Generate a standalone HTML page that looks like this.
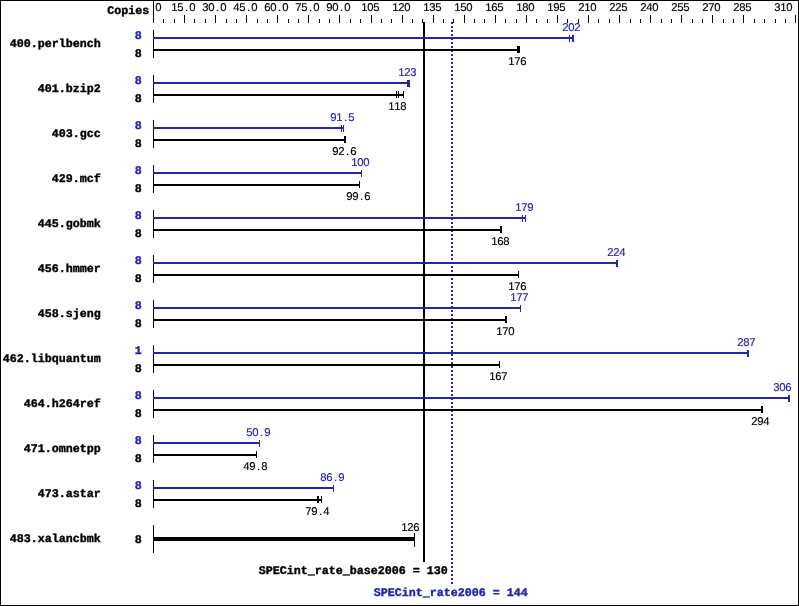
<!DOCTYPE html>
<html><head><meta charset="utf-8"><title>SPECint_rate2006</title>
<style>
html,body{margin:0;padding:0;background:#fff;}
svg{display:block;will-change:transform;}
rect{shape-rendering:crispEdges;}
text{font-family:"Liberation Mono","DejaVu Sans Mono",monospace;white-space:pre;text-rendering:geometricPrecision;}
.s{font-family:"Liberation Sans","DejaVu Sans",sans-serif;font-size:11.3px;stroke-width:0.15px;}
.b{font-size:11.6px;font-weight:bold;stroke-width:0.4px;}
</style></head><body>
<svg width="799" height="606" viewBox="0 0 799 606">
<rect x="0" y="0" width="799" height="606" fill="#fff"/>
<rect x="0" y="0" width="799" height="1" fill="#000"/>
<rect x="0" y="605" width="799" height="1" fill="#000"/>
<rect x="0" y="0" width="1" height="606" fill="#000"/>
<rect x="798" y="0" width="1" height="606" fill="#000"/>
<rect x="153" y="0" width="1" height="23" fill="#000"/>
<rect x="163" y="19" width="1" height="4" fill="#000"/>
<rect x="174" y="19" width="1" height="4" fill="#000"/>
<rect x="184" y="15" width="1" height="8" fill="#000"/>
<rect x="194" y="19" width="1" height="4" fill="#000"/>
<rect x="205" y="19" width="1" height="4" fill="#000"/>
<rect x="215" y="15" width="1" height="8" fill="#000"/>
<rect x="226" y="19" width="1" height="4" fill="#000"/>
<rect x="236" y="19" width="1" height="4" fill="#000"/>
<rect x="246" y="15" width="1" height="8" fill="#000"/>
<rect x="257" y="19" width="1" height="4" fill="#000"/>
<rect x="267" y="19" width="1" height="4" fill="#000"/>
<rect x="277" y="15" width="1" height="8" fill="#000"/>
<rect x="288" y="19" width="1" height="4" fill="#000"/>
<rect x="298" y="19" width="1" height="4" fill="#000"/>
<rect x="308" y="15" width="1" height="8" fill="#000"/>
<rect x="319" y="19" width="1" height="4" fill="#000"/>
<rect x="329" y="19" width="1" height="4" fill="#000"/>
<rect x="339" y="15" width="1" height="8" fill="#000"/>
<rect x="350" y="19" width="1" height="4" fill="#000"/>
<rect x="360" y="19" width="1" height="4" fill="#000"/>
<rect x="371" y="15" width="1" height="8" fill="#000"/>
<rect x="381" y="19" width="1" height="4" fill="#000"/>
<rect x="391" y="19" width="1" height="4" fill="#000"/>
<rect x="402" y="15" width="1" height="8" fill="#000"/>
<rect x="412" y="19" width="1" height="4" fill="#000"/>
<rect x="422" y="19" width="1" height="4" fill="#000"/>
<rect x="433" y="15" width="1" height="8" fill="#000"/>
<rect x="443" y="19" width="1" height="4" fill="#000"/>
<rect x="453" y="19" width="1" height="4" fill="#000"/>
<rect x="464" y="15" width="1" height="8" fill="#000"/>
<rect x="474" y="19" width="1" height="4" fill="#000"/>
<rect x="484" y="19" width="1" height="4" fill="#000"/>
<rect x="495" y="15" width="1" height="8" fill="#000"/>
<rect x="505" y="19" width="1" height="4" fill="#000"/>
<rect x="516" y="19" width="1" height="4" fill="#000"/>
<rect x="526" y="15" width="1" height="8" fill="#000"/>
<rect x="536" y="19" width="1" height="4" fill="#000"/>
<rect x="547" y="19" width="1" height="4" fill="#000"/>
<rect x="557" y="15" width="1" height="8" fill="#000"/>
<rect x="567" y="19" width="1" height="4" fill="#000"/>
<rect x="578" y="19" width="1" height="4" fill="#000"/>
<rect x="588" y="15" width="1" height="8" fill="#000"/>
<rect x="598" y="19" width="1" height="4" fill="#000"/>
<rect x="609" y="19" width="1" height="4" fill="#000"/>
<rect x="619" y="15" width="1" height="8" fill="#000"/>
<rect x="630" y="19" width="1" height="4" fill="#000"/>
<rect x="640" y="19" width="1" height="4" fill="#000"/>
<rect x="650" y="15" width="1" height="8" fill="#000"/>
<rect x="661" y="19" width="1" height="4" fill="#000"/>
<rect x="671" y="19" width="1" height="4" fill="#000"/>
<rect x="681" y="15" width="1" height="8" fill="#000"/>
<rect x="692" y="19" width="1" height="4" fill="#000"/>
<rect x="702" y="19" width="1" height="4" fill="#000"/>
<rect x="712" y="15" width="1" height="8" fill="#000"/>
<rect x="723" y="19" width="1" height="4" fill="#000"/>
<rect x="733" y="19" width="1" height="4" fill="#000"/>
<rect x="743" y="15" width="1" height="8" fill="#000"/>
<rect x="754" y="19" width="1" height="4" fill="#000"/>
<rect x="764" y="19" width="1" height="4" fill="#000"/>
<rect x="775" y="19" width="1" height="4" fill="#000"/>
<rect x="785" y="19" width="1" height="4" fill="#000"/>
<rect x="795" y="15" width="1" height="8" fill="#000"/>
<text class="s" x="158.5" y="11" text-anchor="middle" fill="#000" stroke="#000">0</text>
<text class="s" x="174.5 180.5 186.5 192.5" y="11" text-anchor="middle" fill="#000" stroke="#000">15.0</text>
<text class="s" x="205.5 211.5 217.5 223.5" y="11" text-anchor="middle" fill="#000" stroke="#000">30.0</text>
<text class="s" x="236.5 242.5 248.5 254.5" y="11" text-anchor="middle" fill="#000" stroke="#000">45.0</text>
<text class="s" x="267.5 273.5 279.5 285.5" y="11" text-anchor="middle" fill="#000" stroke="#000">60.0</text>
<text class="s" x="298.5 304.5 310.5 316.5" y="11" text-anchor="middle" fill="#000" stroke="#000">75.0</text>
<text class="s" x="329.5 335.5 341.5 347.5" y="11" text-anchor="middle" fill="#000" stroke="#000">90.0</text>
<text class="s" x="364.5 370.5 376.5" y="11" text-anchor="middle" fill="#000" stroke="#000">105</text>
<text class="s" x="395.5 401.5 407.5" y="11" text-anchor="middle" fill="#000" stroke="#000">120</text>
<text class="s" x="426.5 432.5 438.5" y="11" text-anchor="middle" fill="#000" stroke="#000">135</text>
<text class="s" x="457.5 463.5 469.5" y="11" text-anchor="middle" fill="#000" stroke="#000">150</text>
<text class="s" x="488.5 494.5 500.5" y="11" text-anchor="middle" fill="#000" stroke="#000">165</text>
<text class="s" x="519.5 525.5 531.5" y="11" text-anchor="middle" fill="#000" stroke="#000">180</text>
<text class="s" x="550.5 556.5 562.5" y="11" text-anchor="middle" fill="#000" stroke="#000">195</text>
<text class="s" x="581.5 587.5 593.5" y="11" text-anchor="middle" fill="#000" stroke="#000">210</text>
<text class="s" x="612.5 618.5 624.5" y="11" text-anchor="middle" fill="#000" stroke="#000">225</text>
<text class="s" x="643.5 649.5 655.5" y="11" text-anchor="middle" fill="#000" stroke="#000">240</text>
<text class="s" x="674.5 680.5 686.5" y="11" text-anchor="middle" fill="#000" stroke="#000">255</text>
<text class="s" x="705.5 711.5 717.5" y="11" text-anchor="middle" fill="#000" stroke="#000">270</text>
<text class="s" x="736.5 742.5 748.5" y="11" text-anchor="middle" fill="#000" stroke="#000">285</text>
<text class="s" x="777.5 783.5 789.5" y="11" text-anchor="middle" fill="#000" stroke="#000">310</text>
<text class="b" x="107.3" y="14" textLength="42" lengthAdjust="spacingAndGlyphs" fill="#000" stroke="#000">Copies</text>
<rect x="423" y="22" width="2" height="540" fill="#000"/>
<rect x="451" y="22" width="2" height="2" fill="#2424b0"/>
<rect x="451" y="26" width="2" height="2" fill="#2424b0"/>
<rect x="451" y="30" width="2" height="2" fill="#2424b0"/>
<rect x="451" y="34" width="2" height="2" fill="#2424b0"/>
<rect x="451" y="38" width="2" height="2" fill="#2424b0"/>
<rect x="451" y="42" width="2" height="2" fill="#2424b0"/>
<rect x="451" y="46" width="2" height="2" fill="#2424b0"/>
<rect x="451" y="50" width="2" height="2" fill="#2424b0"/>
<rect x="451" y="54" width="2" height="2" fill="#2424b0"/>
<rect x="451" y="58" width="2" height="2" fill="#2424b0"/>
<rect x="451" y="62" width="2" height="2" fill="#2424b0"/>
<rect x="451" y="66" width="2" height="2" fill="#2424b0"/>
<rect x="451" y="70" width="2" height="2" fill="#2424b0"/>
<rect x="451" y="74" width="2" height="2" fill="#2424b0"/>
<rect x="451" y="78" width="2" height="2" fill="#2424b0"/>
<rect x="451" y="82" width="2" height="2" fill="#2424b0"/>
<rect x="451" y="86" width="2" height="2" fill="#2424b0"/>
<rect x="451" y="90" width="2" height="2" fill="#2424b0"/>
<rect x="451" y="94" width="2" height="2" fill="#2424b0"/>
<rect x="451" y="98" width="2" height="2" fill="#2424b0"/>
<rect x="451" y="102" width="2" height="2" fill="#2424b0"/>
<rect x="451" y="106" width="2" height="2" fill="#2424b0"/>
<rect x="451" y="110" width="2" height="2" fill="#2424b0"/>
<rect x="451" y="114" width="2" height="2" fill="#2424b0"/>
<rect x="451" y="118" width="2" height="2" fill="#2424b0"/>
<rect x="451" y="122" width="2" height="2" fill="#2424b0"/>
<rect x="451" y="126" width="2" height="2" fill="#2424b0"/>
<rect x="451" y="130" width="2" height="2" fill="#2424b0"/>
<rect x="451" y="134" width="2" height="2" fill="#2424b0"/>
<rect x="451" y="138" width="2" height="2" fill="#2424b0"/>
<rect x="451" y="142" width="2" height="2" fill="#2424b0"/>
<rect x="451" y="146" width="2" height="2" fill="#2424b0"/>
<rect x="451" y="150" width="2" height="2" fill="#2424b0"/>
<rect x="451" y="154" width="2" height="2" fill="#2424b0"/>
<rect x="451" y="158" width="2" height="2" fill="#2424b0"/>
<rect x="451" y="162" width="2" height="2" fill="#2424b0"/>
<rect x="451" y="166" width="2" height="2" fill="#2424b0"/>
<rect x="451" y="170" width="2" height="2" fill="#2424b0"/>
<rect x="451" y="174" width="2" height="2" fill="#2424b0"/>
<rect x="451" y="178" width="2" height="2" fill="#2424b0"/>
<rect x="451" y="182" width="2" height="2" fill="#2424b0"/>
<rect x="451" y="186" width="2" height="2" fill="#2424b0"/>
<rect x="451" y="190" width="2" height="2" fill="#2424b0"/>
<rect x="451" y="194" width="2" height="2" fill="#2424b0"/>
<rect x="451" y="198" width="2" height="2" fill="#2424b0"/>
<rect x="451" y="202" width="2" height="2" fill="#2424b0"/>
<rect x="451" y="206" width="2" height="2" fill="#2424b0"/>
<rect x="451" y="210" width="2" height="2" fill="#2424b0"/>
<rect x="451" y="214" width="2" height="2" fill="#2424b0"/>
<rect x="451" y="218" width="2" height="2" fill="#2424b0"/>
<rect x="451" y="222" width="2" height="2" fill="#2424b0"/>
<rect x="451" y="226" width="2" height="2" fill="#2424b0"/>
<rect x="451" y="230" width="2" height="2" fill="#2424b0"/>
<rect x="451" y="234" width="2" height="2" fill="#2424b0"/>
<rect x="451" y="238" width="2" height="2" fill="#2424b0"/>
<rect x="451" y="242" width="2" height="2" fill="#2424b0"/>
<rect x="451" y="246" width="2" height="2" fill="#2424b0"/>
<rect x="451" y="250" width="2" height="2" fill="#2424b0"/>
<rect x="451" y="254" width="2" height="2" fill="#2424b0"/>
<rect x="451" y="258" width="2" height="2" fill="#2424b0"/>
<rect x="451" y="262" width="2" height="2" fill="#2424b0"/>
<rect x="451" y="266" width="2" height="2" fill="#2424b0"/>
<rect x="451" y="270" width="2" height="2" fill="#2424b0"/>
<rect x="451" y="274" width="2" height="2" fill="#2424b0"/>
<rect x="451" y="278" width="2" height="2" fill="#2424b0"/>
<rect x="451" y="282" width="2" height="2" fill="#2424b0"/>
<rect x="451" y="286" width="2" height="2" fill="#2424b0"/>
<rect x="451" y="290" width="2" height="2" fill="#2424b0"/>
<rect x="451" y="294" width="2" height="2" fill="#2424b0"/>
<rect x="451" y="298" width="2" height="2" fill="#2424b0"/>
<rect x="451" y="302" width="2" height="2" fill="#2424b0"/>
<rect x="451" y="306" width="2" height="2" fill="#2424b0"/>
<rect x="451" y="310" width="2" height="2" fill="#2424b0"/>
<rect x="451" y="314" width="2" height="2" fill="#2424b0"/>
<rect x="451" y="318" width="2" height="2" fill="#2424b0"/>
<rect x="451" y="322" width="2" height="2" fill="#2424b0"/>
<rect x="451" y="326" width="2" height="2" fill="#2424b0"/>
<rect x="451" y="330" width="2" height="2" fill="#2424b0"/>
<rect x="451" y="334" width="2" height="2" fill="#2424b0"/>
<rect x="451" y="338" width="2" height="2" fill="#2424b0"/>
<rect x="451" y="342" width="2" height="2" fill="#2424b0"/>
<rect x="451" y="346" width="2" height="2" fill="#2424b0"/>
<rect x="451" y="350" width="2" height="2" fill="#2424b0"/>
<rect x="451" y="354" width="2" height="2" fill="#2424b0"/>
<rect x="451" y="358" width="2" height="2" fill="#2424b0"/>
<rect x="451" y="362" width="2" height="2" fill="#2424b0"/>
<rect x="451" y="366" width="2" height="2" fill="#2424b0"/>
<rect x="451" y="370" width="2" height="2" fill="#2424b0"/>
<rect x="451" y="374" width="2" height="2" fill="#2424b0"/>
<rect x="451" y="378" width="2" height="2" fill="#2424b0"/>
<rect x="451" y="382" width="2" height="2" fill="#2424b0"/>
<rect x="451" y="386" width="2" height="2" fill="#2424b0"/>
<rect x="451" y="390" width="2" height="2" fill="#2424b0"/>
<rect x="451" y="394" width="2" height="2" fill="#2424b0"/>
<rect x="451" y="398" width="2" height="2" fill="#2424b0"/>
<rect x="451" y="402" width="2" height="2" fill="#2424b0"/>
<rect x="451" y="406" width="2" height="2" fill="#2424b0"/>
<rect x="451" y="410" width="2" height="2" fill="#2424b0"/>
<rect x="451" y="414" width="2" height="2" fill="#2424b0"/>
<rect x="451" y="418" width="2" height="2" fill="#2424b0"/>
<rect x="451" y="422" width="2" height="2" fill="#2424b0"/>
<rect x="451" y="426" width="2" height="2" fill="#2424b0"/>
<rect x="451" y="430" width="2" height="2" fill="#2424b0"/>
<rect x="451" y="434" width="2" height="2" fill="#2424b0"/>
<rect x="451" y="438" width="2" height="2" fill="#2424b0"/>
<rect x="451" y="442" width="2" height="2" fill="#2424b0"/>
<rect x="451" y="446" width="2" height="2" fill="#2424b0"/>
<rect x="451" y="450" width="2" height="2" fill="#2424b0"/>
<rect x="451" y="454" width="2" height="2" fill="#2424b0"/>
<rect x="451" y="458" width="2" height="2" fill="#2424b0"/>
<rect x="451" y="462" width="2" height="2" fill="#2424b0"/>
<rect x="451" y="466" width="2" height="2" fill="#2424b0"/>
<rect x="451" y="470" width="2" height="2" fill="#2424b0"/>
<rect x="451" y="474" width="2" height="2" fill="#2424b0"/>
<rect x="451" y="478" width="2" height="2" fill="#2424b0"/>
<rect x="451" y="482" width="2" height="2" fill="#2424b0"/>
<rect x="451" y="486" width="2" height="2" fill="#2424b0"/>
<rect x="451" y="490" width="2" height="2" fill="#2424b0"/>
<rect x="451" y="494" width="2" height="2" fill="#2424b0"/>
<rect x="451" y="498" width="2" height="2" fill="#2424b0"/>
<rect x="451" y="502" width="2" height="2" fill="#2424b0"/>
<rect x="451" y="506" width="2" height="2" fill="#2424b0"/>
<rect x="451" y="510" width="2" height="2" fill="#2424b0"/>
<rect x="451" y="514" width="2" height="2" fill="#2424b0"/>
<rect x="451" y="518" width="2" height="2" fill="#2424b0"/>
<rect x="451" y="522" width="2" height="2" fill="#2424b0"/>
<rect x="451" y="526" width="2" height="2" fill="#2424b0"/>
<rect x="451" y="530" width="2" height="2" fill="#2424b0"/>
<rect x="451" y="534" width="2" height="2" fill="#2424b0"/>
<rect x="451" y="538" width="2" height="2" fill="#2424b0"/>
<rect x="451" y="542" width="2" height="2" fill="#2424b0"/>
<rect x="451" y="546" width="2" height="2" fill="#2424b0"/>
<rect x="451" y="550" width="2" height="2" fill="#2424b0"/>
<rect x="451" y="554" width="2" height="2" fill="#2424b0"/>
<rect x="451" y="558" width="2" height="2" fill="#2424b0"/>
<rect x="451" y="562" width="2" height="2" fill="#2424b0"/>
<rect x="451" y="566" width="2" height="2" fill="#2424b0"/>
<rect x="451" y="570" width="2" height="2" fill="#2424b0"/>
<rect x="451" y="574" width="2" height="2" fill="#2424b0"/>
<rect x="451" y="578" width="2" height="2" fill="#2424b0"/>
<rect x="451" y="582" width="2" height="2" fill="#2424b0"/>
<rect x="153" y="30" width="1" height="28" fill="#000"/>
<text class="b" x="9.7" y="47" textLength="91" lengthAdjust="spacingAndGlyphs" fill="#000" stroke="#000">400.perlbench</text>
<text class="b" x="134.7" y="39" textLength="7" lengthAdjust="spacingAndGlyphs" fill="#2424b0" stroke="#2424b0">8</text>
<text class="b" x="134.7" y="57" textLength="7" lengthAdjust="spacingAndGlyphs" fill="#000" stroke="#000">8</text>
<rect x="153" y="37" width="421" height="2" fill="#2424b0"/>
<rect x="569" y="35" width="1" height="7" fill="#2424b0"/>
<rect x="572" y="35" width="1" height="7" fill="#2424b0"/>
<rect x="573" y="35" width="1" height="7" fill="#2424b0"/>
<text class="s" x="565.5 571.5 577.5" y="31" text-anchor="middle" fill="#2424b0" stroke="#2424b0">202</text>
<rect x="153" y="49" width="367" height="2" fill="#000"/>
<rect x="517" y="46" width="1" height="7" fill="#000"/>
<rect x="518" y="46" width="1" height="7" fill="#000"/>
<rect x="519" y="46" width="1" height="7" fill="#000"/>
<text class="s" x="511.5 517.5 523.5" y="65" text-anchor="middle" fill="#000" stroke="#000">176</text>
<rect x="153" y="75" width="1" height="28" fill="#000"/>
<text class="b" x="37.7" y="92" textLength="63" lengthAdjust="spacingAndGlyphs" fill="#000" stroke="#000">401.bzip2</text>
<text class="b" x="134.7" y="84" textLength="7" lengthAdjust="spacingAndGlyphs" fill="#2424b0" stroke="#2424b0">8</text>
<text class="b" x="134.7" y="102" textLength="7" lengthAdjust="spacingAndGlyphs" fill="#000" stroke="#000">8</text>
<rect x="153" y="82" width="257" height="2" fill="#2424b0"/>
<rect x="407" y="80" width="1" height="7" fill="#2424b0"/>
<rect x="408" y="80" width="1" height="7" fill="#2424b0"/>
<rect x="409" y="80" width="1" height="7" fill="#2424b0"/>
<text class="s" x="401.5 407.5 413.5" y="76" text-anchor="middle" fill="#2424b0" stroke="#2424b0">123</text>
<rect x="153" y="94" width="251" height="2" fill="#000"/>
<rect x="396" y="91" width="1" height="7" fill="#000"/>
<rect x="398" y="91" width="1" height="7" fill="#000"/>
<rect x="403" y="91" width="1" height="7" fill="#000"/>
<text class="s" x="391.5 397.5 403.5" y="110" text-anchor="middle" fill="#000" stroke="#000">118</text>
<rect x="153" y="120" width="1" height="28" fill="#000"/>
<text class="b" x="51.7" y="137" textLength="49" lengthAdjust="spacingAndGlyphs" fill="#000" stroke="#000">403.gcc</text>
<text class="b" x="134.7" y="129" textLength="7" lengthAdjust="spacingAndGlyphs" fill="#2424b0" stroke="#2424b0">8</text>
<text class="b" x="134.7" y="147" textLength="7" lengthAdjust="spacingAndGlyphs" fill="#000" stroke="#000">8</text>
<rect x="153" y="127" width="191" height="2" fill="#2424b0"/>
<rect x="341" y="125" width="1" height="7" fill="#2424b0"/>
<rect x="343" y="125" width="1" height="7" fill="#2424b0"/>
<text class="s" x="333.5 339.5 345.5 351.5" y="121" text-anchor="middle" fill="#2424b0" stroke="#2424b0">91.5</text>
<rect x="153" y="139" width="193" height="2" fill="#000"/>
<rect x="344" y="136" width="1" height="7" fill="#000"/>
<rect x="345" y="136" width="1" height="7" fill="#000"/>
<text class="s" x="335.5 341.5 347.5 353.5" y="155" text-anchor="middle" fill="#000" stroke="#000">92.6</text>
<rect x="153" y="165" width="1" height="28" fill="#000"/>
<text class="b" x="51.7" y="182" textLength="49" lengthAdjust="spacingAndGlyphs" fill="#000" stroke="#000">429.mcf</text>
<text class="b" x="134.7" y="174" textLength="7" lengthAdjust="spacingAndGlyphs" fill="#2424b0" stroke="#2424b0">8</text>
<text class="b" x="134.7" y="192" textLength="7" lengthAdjust="spacingAndGlyphs" fill="#000" stroke="#000">8</text>
<rect x="153" y="172" width="209" height="2" fill="#2424b0"/>
<rect x="361" y="170" width="1" height="7" fill="#2424b0"/>
<text class="s" x="354.5 360.5 366.5" y="166" text-anchor="middle" fill="#2424b0" stroke="#2424b0">100</text>
<rect x="153" y="184" width="207" height="2" fill="#000"/>
<rect x="359" y="181" width="1" height="7" fill="#000"/>
<text class="s" x="349.5 355.5 361.5 367.5" y="200" text-anchor="middle" fill="#000" stroke="#000">99.6</text>
<rect x="153" y="210" width="1" height="28" fill="#000"/>
<text class="b" x="37.7" y="227" textLength="63" lengthAdjust="spacingAndGlyphs" fill="#000" stroke="#000">445.gobmk</text>
<text class="b" x="134.7" y="219" textLength="7" lengthAdjust="spacingAndGlyphs" fill="#2424b0" stroke="#2424b0">8</text>
<text class="b" x="134.7" y="237" textLength="7" lengthAdjust="spacingAndGlyphs" fill="#000" stroke="#000">8</text>
<rect x="153" y="217" width="373" height="2" fill="#2424b0"/>
<rect x="522" y="215" width="1" height="7" fill="#2424b0"/>
<rect x="525" y="215" width="1" height="7" fill="#2424b0"/>
<text class="s" x="518.5 524.5 530.5" y="211" text-anchor="middle" fill="#2424b0" stroke="#2424b0">179</text>
<rect x="153" y="229" width="349" height="2" fill="#000"/>
<rect x="500" y="226" width="1" height="7" fill="#000"/>
<rect x="501" y="226" width="1" height="7" fill="#000"/>
<text class="s" x="494.5 500.5 506.5" y="245" text-anchor="middle" fill="#000" stroke="#000">168</text>
<rect x="153" y="255" width="1" height="28" fill="#000"/>
<text class="b" x="37.7" y="272" textLength="63" lengthAdjust="spacingAndGlyphs" fill="#000" stroke="#000">456.hmmer</text>
<text class="b" x="134.7" y="264" textLength="7" lengthAdjust="spacingAndGlyphs" fill="#2424b0" stroke="#2424b0">8</text>
<text class="b" x="134.7" y="282" textLength="7" lengthAdjust="spacingAndGlyphs" fill="#000" stroke="#000">8</text>
<rect x="153" y="262" width="465" height="2" fill="#2424b0"/>
<rect x="616" y="260" width="1" height="7" fill="#2424b0"/>
<rect x="617" y="260" width="1" height="7" fill="#2424b0"/>
<text class="s" x="610.5 616.5 622.5" y="256" text-anchor="middle" fill="#2424b0" stroke="#2424b0">224</text>
<rect x="153" y="274" width="366" height="2" fill="#000"/>
<rect x="518" y="271" width="1" height="7" fill="#000"/>
<text class="s" x="511.5 517.5 523.5" y="290" text-anchor="middle" fill="#000" stroke="#000">176</text>
<rect x="153" y="300" width="1" height="28" fill="#000"/>
<text class="b" x="37.7" y="317" textLength="63" lengthAdjust="spacingAndGlyphs" fill="#000" stroke="#000">458.sjeng</text>
<text class="b" x="134.7" y="309" textLength="7" lengthAdjust="spacingAndGlyphs" fill="#2424b0" stroke="#2424b0">8</text>
<text class="b" x="134.7" y="327" textLength="7" lengthAdjust="spacingAndGlyphs" fill="#000" stroke="#000">8</text>
<rect x="153" y="307" width="368" height="2" fill="#2424b0"/>
<rect x="520" y="305" width="1" height="7" fill="#2424b0"/>
<text class="s" x="513.5 519.5 525.5" y="301" text-anchor="middle" fill="#2424b0" stroke="#2424b0">177</text>
<rect x="153" y="319" width="354" height="2" fill="#000"/>
<rect x="505" y="316" width="1" height="7" fill="#000"/>
<rect x="506" y="316" width="1" height="7" fill="#000"/>
<text class="s" x="499.5 505.5 511.5" y="335" text-anchor="middle" fill="#000" stroke="#000">170</text>
<rect x="153" y="345" width="1" height="28" fill="#000"/>
<text class="b" x="2.7" y="362" textLength="98" lengthAdjust="spacingAndGlyphs" fill="#000" stroke="#000">462.libquantum</text>
<text class="b" x="134.7" y="354" textLength="7" lengthAdjust="spacingAndGlyphs" fill="#2424b0" stroke="#2424b0">1</text>
<text class="b" x="134.7" y="372" textLength="7" lengthAdjust="spacingAndGlyphs" fill="#000" stroke="#000">8</text>
<rect x="153" y="352" width="596" height="2" fill="#2424b0"/>
<rect x="747" y="350" width="1" height="7" fill="#2424b0"/>
<rect x="748" y="350" width="1" height="7" fill="#2424b0"/>
<text class="s" x="740.5 746.5 752.5" y="346" text-anchor="middle" fill="#2424b0" stroke="#2424b0">287</text>
<rect x="153" y="364" width="347" height="2" fill="#000"/>
<rect x="499" y="361" width="1" height="7" fill="#000"/>
<text class="s" x="492.5 498.5 504.5" y="380" text-anchor="middle" fill="#000" stroke="#000">167</text>
<rect x="153" y="390" width="1" height="28" fill="#000"/>
<text class="b" x="23.7" y="407" textLength="77" lengthAdjust="spacingAndGlyphs" fill="#000" stroke="#000">464.h264ref</text>
<text class="b" x="134.7" y="399" textLength="7" lengthAdjust="spacingAndGlyphs" fill="#2424b0" stroke="#2424b0">8</text>
<text class="b" x="134.7" y="417" textLength="7" lengthAdjust="spacingAndGlyphs" fill="#000" stroke="#000">8</text>
<rect x="153" y="397" width="637" height="2" fill="#2424b0"/>
<rect x="788" y="395" width="1" height="7" fill="#2424b0"/>
<rect x="789" y="395" width="1" height="7" fill="#2424b0"/>
<text class="s" x="776.5 782.5 788.5" y="391" text-anchor="middle" fill="#2424b0" stroke="#2424b0">306</text>
<rect x="153" y="409" width="610" height="2" fill="#000"/>
<rect x="761" y="406" width="1" height="7" fill="#000"/>
<rect x="762" y="406" width="1" height="7" fill="#000"/>
<text class="s" x="754.5 760.5 766.5" y="425" text-anchor="middle" fill="#000" stroke="#000">294</text>
<rect x="153" y="435" width="1" height="28" fill="#000"/>
<text class="b" x="23.7" y="452" textLength="77" lengthAdjust="spacingAndGlyphs" fill="#000" stroke="#000">471.omnetpp</text>
<text class="b" x="134.7" y="444" textLength="7" lengthAdjust="spacingAndGlyphs" fill="#2424b0" stroke="#2424b0">8</text>
<text class="b" x="134.7" y="462" textLength="7" lengthAdjust="spacingAndGlyphs" fill="#000" stroke="#000">8</text>
<rect x="153" y="442" width="107" height="2" fill="#2424b0"/>
<rect x="259" y="440" width="1" height="7" fill="#2424b0"/>
<text class="s" x="249.5 255.5 261.5 267.5" y="436" text-anchor="middle" fill="#2424b0" stroke="#2424b0">50.9</text>
<rect x="153" y="454" width="104" height="2" fill="#000"/>
<rect x="256" y="451" width="1" height="7" fill="#000"/>
<text class="s" x="246.5 252.5 258.5 264.5" y="470" text-anchor="middle" fill="#000" stroke="#000">49.8</text>
<rect x="153" y="480" width="1" height="28" fill="#000"/>
<text class="b" x="37.7" y="497" textLength="63" lengthAdjust="spacingAndGlyphs" fill="#000" stroke="#000">473.astar</text>
<text class="b" x="134.7" y="489" textLength="7" lengthAdjust="spacingAndGlyphs" fill="#2424b0" stroke="#2424b0">8</text>
<text class="b" x="134.7" y="507" textLength="7" lengthAdjust="spacingAndGlyphs" fill="#000" stroke="#000">8</text>
<rect x="153" y="487" width="181" height="2" fill="#2424b0"/>
<rect x="333" y="485" width="1" height="7" fill="#2424b0"/>
<text class="s" x="323.5 329.5 335.5 341.5" y="481" text-anchor="middle" fill="#2424b0" stroke="#2424b0">86.9</text>
<rect x="153" y="499" width="169" height="2" fill="#000"/>
<rect x="317" y="496" width="1" height="7" fill="#000"/>
<rect x="318" y="496" width="1" height="7" fill="#000"/>
<rect x="321" y="496" width="1" height="7" fill="#000"/>
<text class="s" x="308.5 314.5 320.5 326.5" y="515" text-anchor="middle" fill="#000" stroke="#000">79.4</text>
<rect x="153" y="525" width="1" height="28" fill="#000"/>
<text class="b" x="9.7" y="542" textLength="91" lengthAdjust="spacingAndGlyphs" fill="#000" stroke="#000">483.xalancbmk</text>
<text class="b" x="134.7" y="543" textLength="7" lengthAdjust="spacingAndGlyphs" fill="#000" stroke="#000">8</text>
<rect x="153" y="537" width="262" height="4" fill="#000"/>
<rect x="414" y="533" width="1" height="14" fill="#000"/>
<text class="s" x="404.5 410.5 416.5" y="531" text-anchor="middle" fill="#000" stroke="#000">126</text>
<text class="b" x="258.7" y="574" textLength="189" lengthAdjust="spacingAndGlyphs" fill="#000" stroke="#000">SPECint_rate_base2006 = 130</text>
<text class="b" x="373.7" y="596" textLength="154" lengthAdjust="spacingAndGlyphs" fill="#2424b0" stroke="#2424b0">SPECint_rate2006 = 144</text>
</svg></body></html>
